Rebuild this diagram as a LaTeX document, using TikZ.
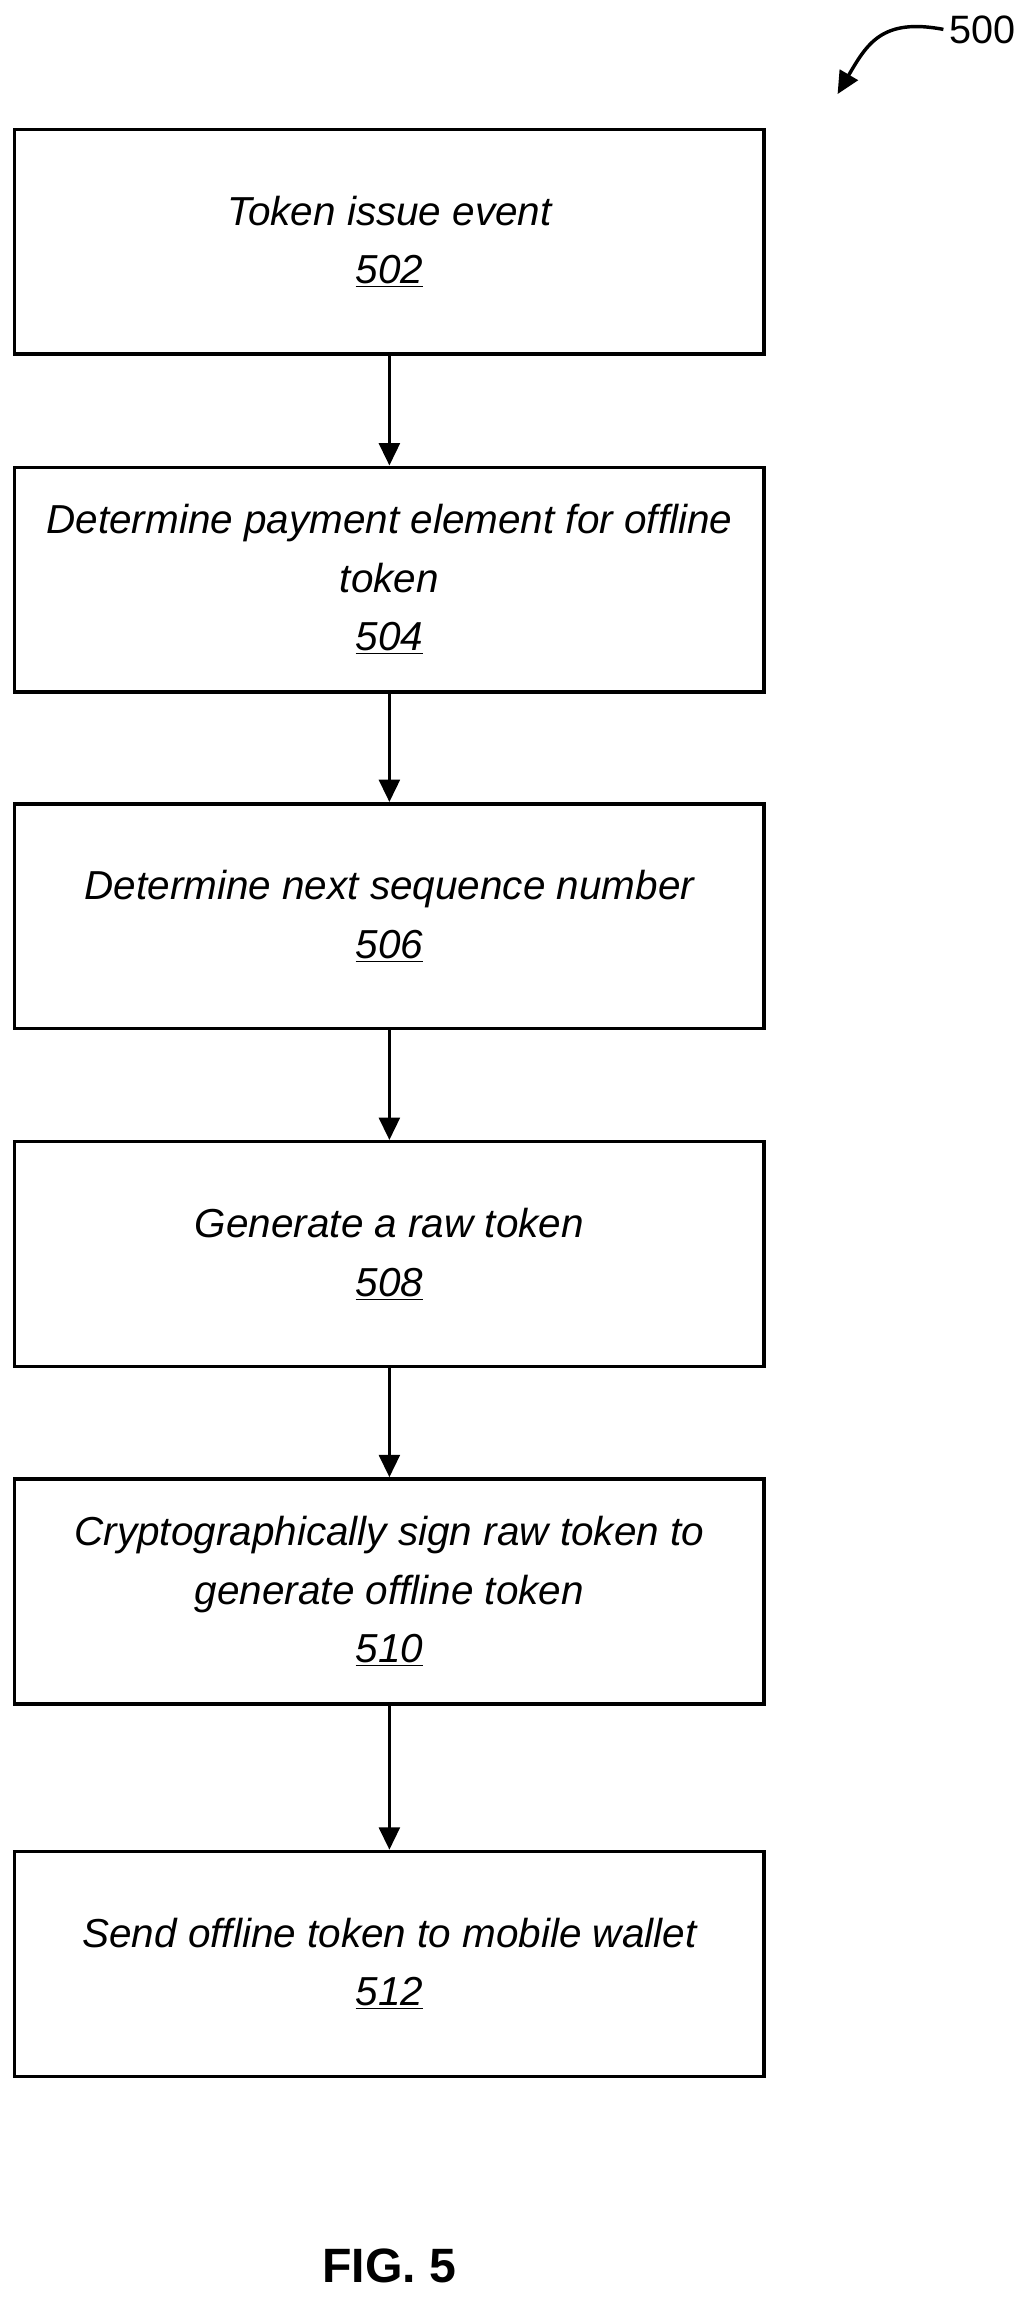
\documentclass[tikz,border=0pt]{standalone}
\usepackage{fontspec}
\setmainfont{Liberation Sans}
\usetikzlibrary{arrows.meta}
\begin{document}
\begin{tikzpicture}[x=0.03cm,y=-0.03cm,
  box/.style={draw,line width=2pt,minimum width=510*0.03cm,minimum height=153*0.03cm,align=center,inner sep=0pt,font=\fontsize{23.5}{34}\selectfont\itshape},
  arr/.style={-{Triangle[length=13pt,width=12pt]},line width=2pt}]
\useasboundingbox (0,0) rectangle (705,1570);
\node[box] (b1) at (265,164.5) {Token issue event\\\underline{502}};
\node[box] (b2) at (265,394.5) {Determine payment element for offline\\token\\\underline{504}};
\node[box] (b3) at (265,623.5) {Determine next sequence number\\\underline{506}};
\node[box] (b4) at (265,853.5) {Generate a raw token\\\underline{508}};
\node[box] (b5) at (265,1083) {Cryptographically sign raw token to\\generate offline token\\\underline{510}};
\node[box] (b6) at (265,1336.5) {Send offline token to mobile wallet\\\underline{512}};
\draw[arr] (b1) -- (b2);
\draw[arr] (b2) -- (b3);
\draw[arr] (b3) -- (b4);
\draw[arr] (b4) -- (b5);
\draw[arr] (b5) -- (b6);
\node[font=\fontsize{28}{30}\selectfont\bfseries] (fig) at (265,1542) {FIG. 5};
\node[font=\fontsize{23}{26}\selectfont,anchor=west] (n500) at (642,20) {500};
\coordinate (c) at (570,64);
\draw[arr] (n500.west) .. controls (600,12) and (590,30) .. (c);
\end{tikzpicture}
\end{document}
